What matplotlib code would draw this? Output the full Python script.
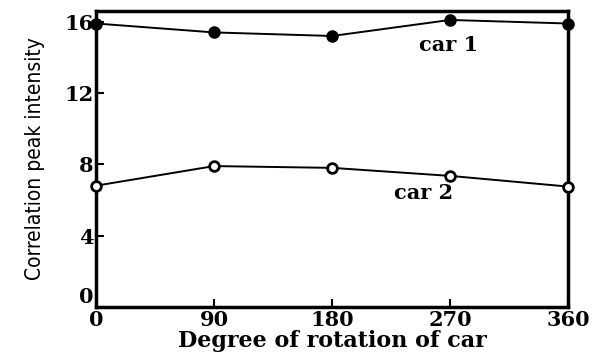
import matplotlib.pyplot as plt

# data
angles = [0, 90, 180, 270, 360]
car1 = [15.9, 15.4, 15.2, 16.1, 15.9]
car2 = [6.8, 7.9, 7.8, 7.35, 6.75]
xticks = [0, 90, 180, 270, 360]
yticks = [0, 4, 8, 12, 16]

serif = ['DejaVu Serif']

fig = plt.figure(figsize=(5.93, 3.56), dpi=100)
ax = fig.add_axes([0.162, 0.138, 0.796, 0.831])

ax.plot(angles, car1, color='black', lw=1.4, marker='o', ms=8,
        mfc='black', mec='black', clip_on=False, zorder=3)
ax.plot(angles, car2, color='black', lw=1.4, marker='o', ms=7,
        mfc='white', mec='black', mew=2, clip_on=False, zorder=3)

ax.text(246, 14.7, 'car 1', fontsize=15, fontweight='bold', family=serif,
        va='center')
ax.text(227, 6.4, 'car 2', fontsize=15, fontweight='bold', family=serif,
        va='center')

ax.set_xlim(0, 360)
ax.set_ylim(0, 16.6)
ax.set_xticks(xticks)
ax.set_yticks(yticks)
ax.tick_params(direction='in', length=6, width=1.5, labelsize=15, pad=2)
for lab in ax.get_xticklabels() + ax.get_yticklabels():
    lab.set_family(serif)
    lab.set_fontweight('bold')
# the "0" on the y axis sits a bit above the corner
ax.get_yticklabels()[0].set_va('bottom')
for s in ax.spines.values():
    s.set_linewidth(2.5)

ax.set_xlabel('Degree of rotation of car', fontsize=16, fontweight='bold',
              family=serif, labelpad=0)
ax.set_ylabel('Correlation peak intensity', fontsize=15,
              family='DejaVu Sans', stretch='condensed', labelpad=14)

fig.savefig('out.png', dpi=100)
